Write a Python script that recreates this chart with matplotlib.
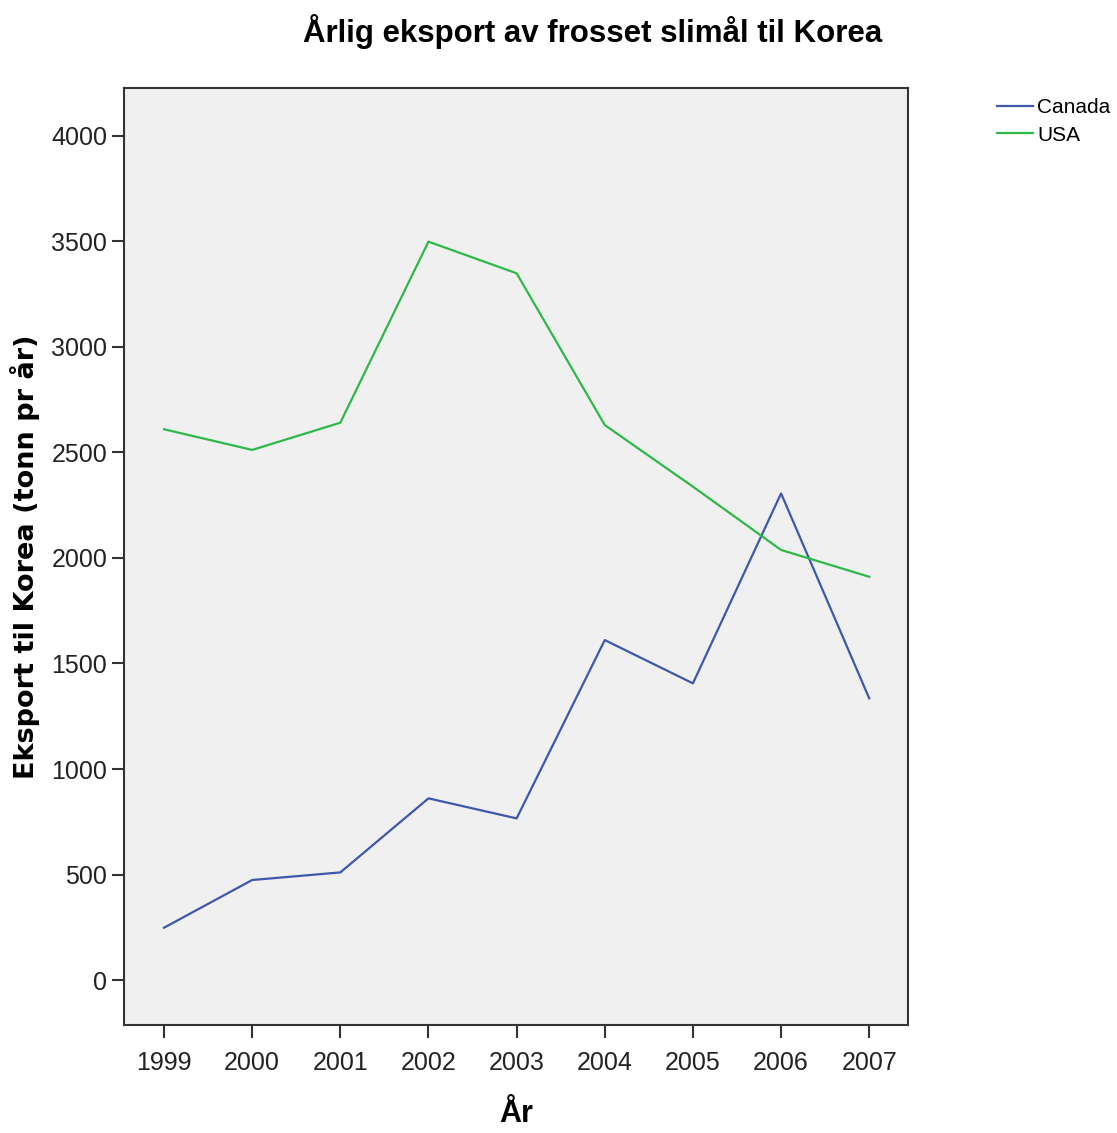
import matplotlib
matplotlib.use("Agg")
import matplotlib.pyplot as plt
from matplotlib import font_manager

years = [1999, 2000, 2001, 2002, 2003, 2004, 2005, 2006, 2007]
canada = [248, 474, 510, 861, 766, 1611, 1406, 2306, 1335]
usa = [2610, 2512, 2641, 3499, 3349, 2630, 2338, 2038, 1911]
yticks = [0, 500, 1000, 1500, 2000, 2500, 3000, 3500, 4000]

names = {f.name for f in font_manager.fontManager.ttflist}
narrow = 'Liberation Sans Narrow' if 'Liberation Sans Narrow' in names else 'Liberation Sans'
plt.rcParams['font.family'] = [narrow, 'DejaVu Sans']

W, H = 1117, 1133
fig = plt.figure(figsize=(W / 100, H / 100), dpi=100)
ax = fig.add_axes([124 / W, 1 - 1025 / H, (908 - 124) / W, (1025 - 88) / H])
ax.set_facecolor('#f0f0f0')

ax.plot(years, canada, color='#3e58ac', lw=1.6, label='Canada')
ax.plot(years, usa, color='#2eb848', lw=1.6, label='USA')

ax.set_xlim(1998.546, 2007.44)
ax.set_ylim(-213, 4227)
ax.set_xticks(years)
ax.set_xticklabels([str(y) for y in years])
ax.set_yticks(yticks)
ax.tick_params(axis='both', labelsize=18, length=9, width=1.5, color='#333333', labelcolor='#222222', direction='out')
ax.tick_params(axis='x', pad=10)
ax.tick_params(axis='y', pad=3)
for s in ax.spines.values():
    s.set_color('#333333')
    s.set_linewidth(1.5)

ax.set_xlabel('År', fontsize=22, fontweight='bold', labelpad=17)
ax.set_ylabel('Eksport til Korea (tonn pr år)', fontsize=19.5, fontweight='bold',
              family=['DejaVu Sans'], labelpad=8)

fig.text(593 / W, 1 - 32 / H, 'Årlig eksport av frosset slimål til Korea', fontsize=22.5,
         fontweight='bold', ha='center', va='center')

fig.legend(loc='upper left', bbox_to_anchor=(989 / W, 1 - 90 / H), frameon=False,
           fontsize=15, handlelength=1.7, handletextpad=0.2, labelspacing=0.4,
           borderaxespad=0)

fig.savefig('out.png', dpi=100)
